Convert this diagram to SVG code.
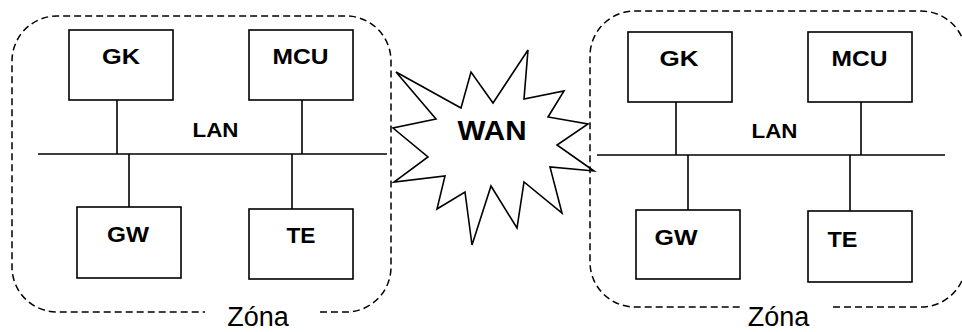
<svg xmlns="http://www.w3.org/2000/svg" width="962" height="332" viewBox="0 0 962 332">
<style>
.box{fill:#fff;stroke:#000;stroke-width:1.6}
.ln{stroke:#000;stroke-width:1.6;fill:none}
.zone{fill:none;stroke:#000;stroke-width:1.5;stroke-dasharray:7 4}
.b{font-family:"Liberation Sans",Arial,sans-serif;font-weight:bold;fill:#000;text-anchor:middle}
.r{font-family:"Liberation Sans",Arial,sans-serif;fill:#000;text-anchor:middle}
</style>
<rect width="962" height="332" fill="#fff"/>
<g id="zone-left">
<path class="zone" d="M320,312 H346 A45,45 0 0 0 391,267 V61 A45,45 0 0 0 346,16 H57 A45,45 0 0 0 12,61 V267 A45,45 0 0 0 57,312 H205"/>
<text class="r" x="258" y="326" font-size="27">Zóna</text>
</g>
<g id="zone-right">
<path class="zone" d="M833,307 H921 A45,45 0 0 0 966,262 V56 A45,45 0 0 0 921,11 H635 A45,45 0 0 0 590,56 V262 A45,45 0 0 0 635,307 H743"/>
<text class="r" x="778.5" y="326" font-size="27">Zóna</text>
</g>
<g id="wan">
<polygon class="ln" points="396,72 461,108 471,72 493,103 528,50 524,99 564,91 548,117 588,124 557,145 594,171 550,167 562,213 524,182 517,228 491,186 472,245 465,192 437,209 445,176 394,182 428,157 393,128 436,119"/>
<text class="b" x="492" y="140" font-size="28" textLength="69" lengthAdjust="spacingAndGlyphs">WAN</text>
</g>
<g id="connectors">
<line class="ln" x1="38" y1="154" x2="387" y2="154"/>
<line class="ln" x1="117" y1="100" x2="117" y2="154"/>
<line class="ln" x1="302" y1="100" x2="302" y2="154"/>
<line class="ln" x1="129" y1="154" x2="129" y2="207"/>
<line class="ln" x1="292" y1="154" x2="292" y2="209"/>
<line class="ln" x1="597" y1="155" x2="945" y2="155"/>
<line class="ln" x1="676" y1="102" x2="676" y2="155"/>
<line class="ln" x1="861" y1="102" x2="861" y2="155"/>
<line class="ln" x1="688" y1="155" x2="688" y2="210"/>
<line class="ln" x1="850" y1="155" x2="850" y2="211"/>
<text class="b" x="215.5" y="137" font-size="19.5" textLength="46" lengthAdjust="spacingAndGlyphs">LAN</text>
<text class="b" x="774.5" y="138" font-size="19.5" textLength="46" lengthAdjust="spacingAndGlyphs">LAN</text>
</g>
<g id="gk-left">
<rect class="box" x="69" y="30" width="104" height="70"/>
<text class="b" x="121" y="63.5" font-size="22" textLength="38" lengthAdjust="spacingAndGlyphs">GK</text>
</g>
<g id="mcu-left">
<rect class="box" x="249" y="30" width="104" height="70"/>
<text class="b" x="300.5" y="63.5" font-size="22" textLength="56" lengthAdjust="spacingAndGlyphs">MCU</text>
</g>
<g id="gw-left">
<rect class="box" x="77" y="207" width="104" height="71"/>
<text class="b" x="128" y="242" font-size="22" textLength="42" lengthAdjust="spacingAndGlyphs">GW</text>
</g>
<g id="te-left">
<rect class="box" x="249" y="209" width="104" height="70"/>
<text class="b" x="301" y="243" font-size="22" textLength="29" lengthAdjust="spacingAndGlyphs">TE</text>
</g>
<g id="gk-right">
<rect class="box" x="628" y="32" width="104" height="70"/>
<text class="b" x="679" y="66" font-size="22" textLength="39" lengthAdjust="spacingAndGlyphs">GK</text>
</g>
<g id="mcu-right">
<rect class="box" x="808" y="32" width="104" height="70"/>
<text class="b" x="859.5" y="66" font-size="22" textLength="56" lengthAdjust="spacingAndGlyphs">MCU</text>
</g>
<g id="gw-right">
<rect class="box" x="636" y="210" width="104" height="69"/>
<text class="b" x="676" y="245" font-size="22" textLength="43" lengthAdjust="spacingAndGlyphs">GW</text>
</g>
<g id="te-right">
<rect class="box" x="808" y="211" width="104" height="71"/>
<text class="b" x="842.5" y="247" font-size="22" textLength="30" lengthAdjust="spacingAndGlyphs">TE</text>
</g>
</svg>
